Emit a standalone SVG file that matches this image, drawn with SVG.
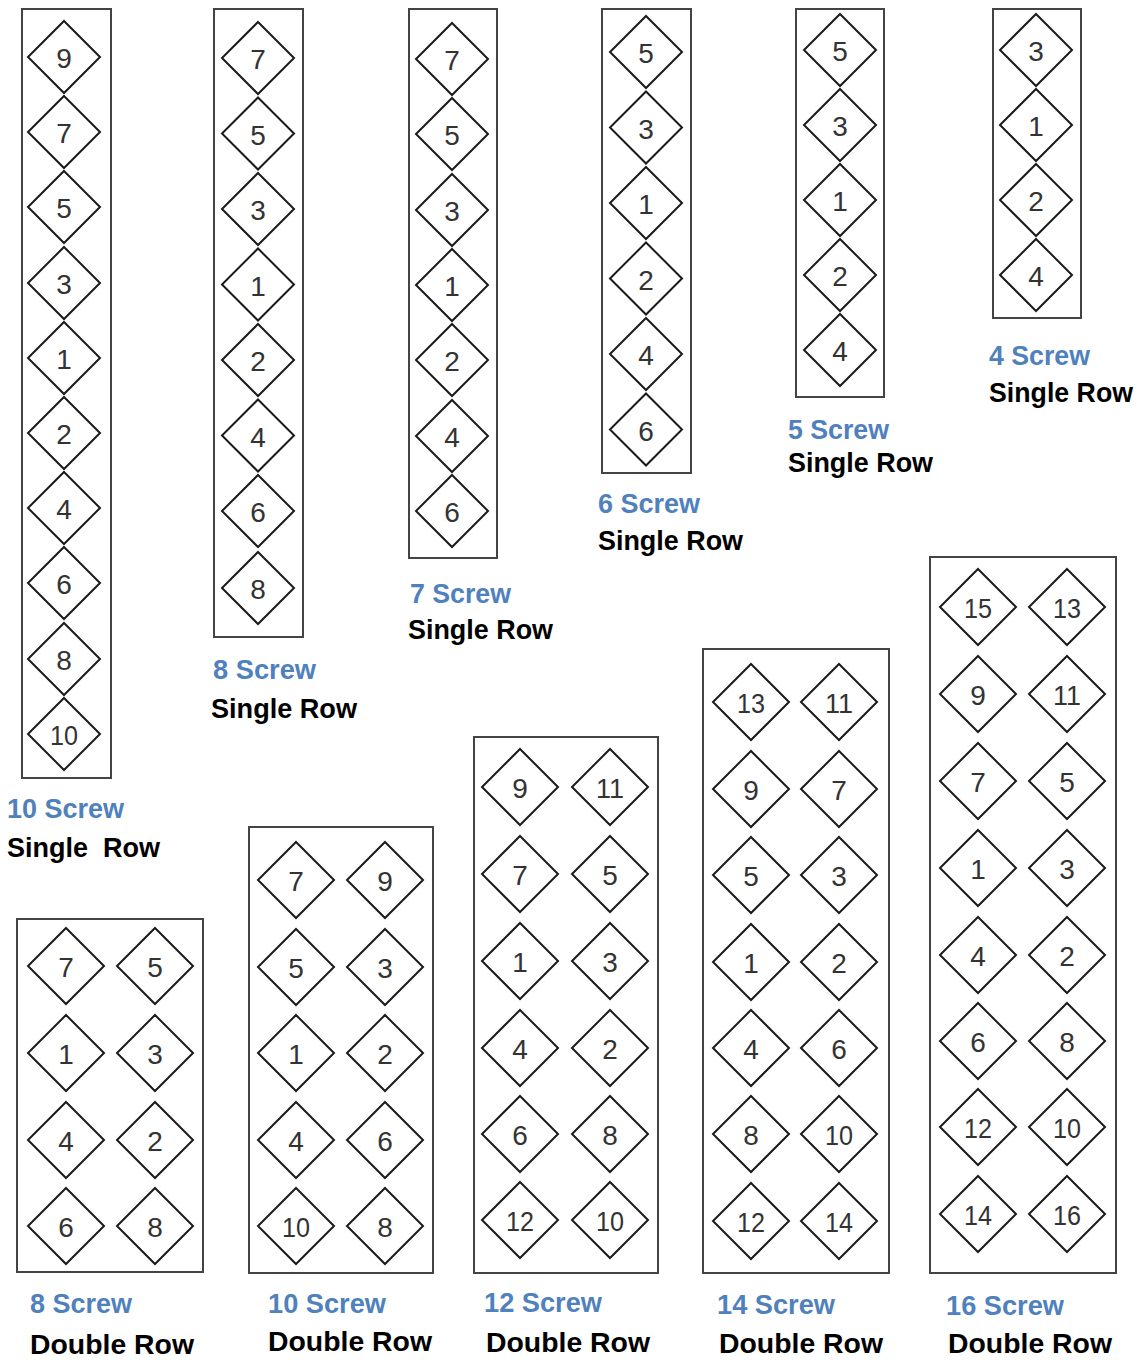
<svg xmlns="http://www.w3.org/2000/svg" xmlns:xlink="http://www.w3.org/1999/xlink" width="1142" height="1362" viewBox="0 0 1142 1362">
<style>
.board{fill:none;stroke:#444;stroke-width:2}
.dia{fill:#fff;stroke:#1a1a1a;stroke-width:2}
.n{font-family:"Liberation Sans",Arial,sans-serif;font-size:28px;fill:#333;text-anchor:middle}
.lb{font-family:"Liberation Sans",Arial,sans-serif;font-size:28px;font-weight:bold;fill:#4f81bd}
.lk{font-family:"Liberation Sans",Arial,sans-serif;font-size:28px;font-weight:bold;fill:#000}
</style>
<defs>
<path id="ds" d="M0,-36 L36,0 L0,36 L-36,0 Z"/>
<path id="dd" d="M0,-38 L38,0 L0,38 L-38,0 Z"/>
</defs>
<rect width="1142" height="1362" fill="#fff"/>
<g id="connectors"/>

<g id="single10">
<rect class="board" x="22" y="9" width="89" height="769"/>
<g id="s10-9"><use href="#ds" class="dia" x="64" y="57"/><text class="n" x="64" y="68">9</text></g>
<g id="s10-7"><use href="#ds" class="dia" x="64" y="132"/><text class="n" x="64" y="143">7</text></g>
<g id="s10-5"><use href="#ds" class="dia" x="64" y="207"/><text class="n" x="64" y="218">5</text></g>
<g id="s10-3"><use href="#ds" class="dia" x="64" y="283"/><text class="n" x="64" y="294">3</text></g>
<g id="s10-1"><use href="#ds" class="dia" x="64" y="358"/><text class="n" x="64" y="369">1</text></g>
<g id="s10-2"><use href="#ds" class="dia" x="64" y="433"/><text class="n" x="64" y="444">2</text></g>
<g id="s10-4"><use href="#ds" class="dia" x="64" y="508"/><text class="n" x="64" y="519">4</text></g>
<g id="s10-6"><use href="#ds" class="dia" x="64" y="583"/><text class="n" x="64" y="594">6</text></g>
<g id="s10-8"><use href="#ds" class="dia" x="64" y="659"/><text class="n" x="64" y="670">8</text></g>
<g id="s10-10"><use href="#ds" class="dia" x="64" y="734"/><text class="n" x="64" y="745" textLength="28" lengthAdjust="spacingAndGlyphs">10</text></g>
<text class="lb" x="7" y="818" textLength="117" lengthAdjust="spacingAndGlyphs">10 Screw</text>
<text class="lk" x="7" y="857" textLength="153" lengthAdjust="spacingAndGlyphs" xml:space="preserve">Single  Row</text>
</g>

<g id="single8">
<rect class="board" x="214" y="9" width="89" height="628"/>
<g id="s8-7"><use href="#ds" class="dia" x="258" y="58"/><text class="n" x="258" y="69">7</text></g>
<g id="s8-5"><use href="#ds" class="dia" x="258" y="133.5"/><text class="n" x="258" y="144.5">5</text></g>
<g id="s8-3"><use href="#ds" class="dia" x="258" y="209"/><text class="n" x="258" y="220">3</text></g>
<g id="s8-1"><use href="#ds" class="dia" x="258" y="284.5"/><text class="n" x="258" y="295.5">1</text></g>
<g id="s8-2"><use href="#ds" class="dia" x="258" y="360"/><text class="n" x="258" y="371">2</text></g>
<g id="s8-4"><use href="#ds" class="dia" x="258" y="435.5"/><text class="n" x="258" y="446.5">4</text></g>
<g id="s8-6"><use href="#ds" class="dia" x="258" y="511"/><text class="n" x="258" y="522">6</text></g>
<g id="s8-8"><use href="#ds" class="dia" x="258" y="588"/><text class="n" x="258" y="599">8</text></g>
<text class="lb" x="213" y="679" textLength="103" lengthAdjust="spacingAndGlyphs">8 Screw</text>
<text class="lk" x="211" y="718" textLength="146" lengthAdjust="spacingAndGlyphs">Single Row</text>
</g>

<g id="single7">
<rect class="board" x="409" y="9" width="88" height="549"/>
<g id="s7-7"><use href="#ds" class="dia" x="452" y="59"/><text class="n" x="452" y="70">7</text></g>
<g id="s7-5"><use href="#ds" class="dia" x="452" y="134"/><text class="n" x="452" y="145">5</text></g>
<g id="s7-3"><use href="#ds" class="dia" x="452" y="210"/><text class="n" x="452" y="221">3</text></g>
<g id="s7-1"><use href="#ds" class="dia" x="452" y="285"/><text class="n" x="452" y="296">1</text></g>
<g id="s7-2"><use href="#ds" class="dia" x="452" y="360"/><text class="n" x="452" y="371">2</text></g>
<g id="s7-4"><use href="#ds" class="dia" x="452" y="436"/><text class="n" x="452" y="447">4</text></g>
<g id="s7-6"><use href="#ds" class="dia" x="452" y="511"/><text class="n" x="452" y="522">6</text></g>
<text class="lb" x="410" y="603" textLength="101" lengthAdjust="spacingAndGlyphs">7 Screw</text>
<text class="lk" x="408" y="639" textLength="145" lengthAdjust="spacingAndGlyphs">Single Row</text>
</g>

<g id="single6">
<rect class="board" x="602" y="9" width="89" height="464"/>
<g id="s6-5"><use href="#ds" class="dia" x="646" y="52"/><text class="n" x="646" y="63">5</text></g>
<g id="s6-3"><use href="#ds" class="dia" x="646" y="127.5"/><text class="n" x="646" y="138.5">3</text></g>
<g id="s6-1"><use href="#ds" class="dia" x="646" y="203"/><text class="n" x="646" y="214">1</text></g>
<g id="s6-2"><use href="#ds" class="dia" x="646" y="278.5"/><text class="n" x="646" y="289.5">2</text></g>
<g id="s6-4"><use href="#ds" class="dia" x="646" y="354"/><text class="n" x="646" y="365">4</text></g>
<g id="s6-6"><use href="#ds" class="dia" x="646" y="429.5"/><text class="n" x="646" y="440.5">6</text></g>
<text class="lb" x="598" y="513" textLength="102" lengthAdjust="spacingAndGlyphs">6 Screw</text>
<text class="lk" x="598" y="550" textLength="145" lengthAdjust="spacingAndGlyphs">Single Row</text>
</g>

<g id="single5">
<rect class="board" x="796" y="9" width="88" height="388"/>
<g id="s5-5"><use href="#ds" class="dia" x="840" y="50"/><text class="n" x="840" y="61">5</text></g>
<g id="s5-3"><use href="#ds" class="dia" x="840" y="125"/><text class="n" x="840" y="136">3</text></g>
<g id="s5-1"><use href="#ds" class="dia" x="840" y="200"/><text class="n" x="840" y="211">1</text></g>
<g id="s5-2"><use href="#ds" class="dia" x="840" y="275"/><text class="n" x="840" y="286">2</text></g>
<g id="s5-4"><use href="#ds" class="dia" x="840" y="350"/><text class="n" x="840" y="361">4</text></g>
<text class="lb" x="788" y="439" textLength="101" lengthAdjust="spacingAndGlyphs">5 Screw</text>
<text class="lk" x="788" y="472" textLength="145" lengthAdjust="spacingAndGlyphs">Single Row</text>
</g>

<g id="single4">
<rect class="board" x="993" y="9" width="88" height="309"/>
<g id="s4-3"><use href="#ds" class="dia" x="1036" y="50"/><text class="n" x="1036" y="61">3</text></g>
<g id="s4-1"><use href="#ds" class="dia" x="1036" y="125"/><text class="n" x="1036" y="136">1</text></g>
<g id="s4-2"><use href="#ds" class="dia" x="1036" y="200"/><text class="n" x="1036" y="211">2</text></g>
<g id="s4-4"><use href="#ds" class="dia" x="1036" y="275"/><text class="n" x="1036" y="286">4</text></g>
<text class="lb" x="989" y="365" textLength="101" lengthAdjust="spacingAndGlyphs">4 Screw</text>
<text class="lk" x="989" y="402" textLength="144" lengthAdjust="spacingAndGlyphs">Single Row</text>
</g>

<g id="double8">
<rect class="board" x="17" y="919" width="186" height="353"/>
<g id="d8-7"><use href="#dd" class="dia" x="66" y="966"/><text class="n" x="66" y="977">7</text></g>
<g id="d8-5"><use href="#dd" class="dia" x="155" y="966"/><text class="n" x="155" y="977">5</text></g>
<g id="d8-1"><use href="#dd" class="dia" x="66" y="1053"/><text class="n" x="66" y="1064">1</text></g>
<g id="d8-3"><use href="#dd" class="dia" x="155" y="1053"/><text class="n" x="155" y="1064">3</text></g>
<g id="d8-4"><use href="#dd" class="dia" x="66" y="1140"/><text class="n" x="66" y="1151">4</text></g>
<g id="d8-2"><use href="#dd" class="dia" x="155" y="1140"/><text class="n" x="155" y="1151">2</text></g>
<g id="d8-6"><use href="#dd" class="dia" x="66" y="1226"/><text class="n" x="66" y="1237">6</text></g>
<g id="d8-8"><use href="#dd" class="dia" x="155" y="1226"/><text class="n" x="155" y="1237">8</text></g>
<text class="lb" x="30" y="1313" textLength="102" lengthAdjust="spacingAndGlyphs">8 Screw</text>
<text class="lk" x="30" y="1354" textLength="164" lengthAdjust="spacingAndGlyphs">Double Row</text>
</g>

<g id="double10">
<rect class="board" x="249" y="827" width="184" height="446"/>
<g id="d10-7"><use href="#dd" class="dia" x="296" y="880"/><text class="n" x="296" y="891">7</text></g>
<g id="d10-9"><use href="#dd" class="dia" x="385" y="880"/><text class="n" x="385" y="891">9</text></g>
<g id="d10-5"><use href="#dd" class="dia" x="296" y="967"/><text class="n" x="296" y="978">5</text></g>
<g id="d10-3"><use href="#dd" class="dia" x="385" y="967"/><text class="n" x="385" y="978">3</text></g>
<g id="d10-1"><use href="#dd" class="dia" x="296" y="1053"/><text class="n" x="296" y="1064">1</text></g>
<g id="d10-2"><use href="#dd" class="dia" x="385" y="1053"/><text class="n" x="385" y="1064">2</text></g>
<g id="d10-4"><use href="#dd" class="dia" x="296" y="1140"/><text class="n" x="296" y="1151">4</text></g>
<g id="d10-6"><use href="#dd" class="dia" x="385" y="1140"/><text class="n" x="385" y="1151">6</text></g>
<g id="d10-10"><use href="#dd" class="dia" x="296" y="1226"/><text class="n" x="296" y="1237" textLength="28" lengthAdjust="spacingAndGlyphs">10</text></g>
<g id="d10-8"><use href="#dd" class="dia" x="385" y="1226"/><text class="n" x="385" y="1237">8</text></g>
<text class="lb" x="268" y="1313" textLength="118" lengthAdjust="spacingAndGlyphs">10 Screw</text>
<text class="lk" x="268" y="1351" textLength="164" lengthAdjust="spacingAndGlyphs">Double Row</text>
</g>

<g id="double12">
<rect class="board" x="474" y="737" width="184" height="536"/>
<g id="d12-9"><use href="#dd" class="dia" x="520" y="787"/><text class="n" x="520" y="798">9</text></g>
<g id="d12-11"><use href="#dd" class="dia" x="610" y="787"/><text class="n" x="610" y="798" textLength="28" lengthAdjust="spacingAndGlyphs">11</text></g>
<g id="d12-7"><use href="#dd" class="dia" x="520" y="874"/><text class="n" x="520" y="885">7</text></g>
<g id="d12-5"><use href="#dd" class="dia" x="610" y="874"/><text class="n" x="610" y="885">5</text></g>
<g id="d12-1"><use href="#dd" class="dia" x="520" y="961"/><text class="n" x="520" y="972">1</text></g>
<g id="d12-3"><use href="#dd" class="dia" x="610" y="961"/><text class="n" x="610" y="972">3</text></g>
<g id="d12-4"><use href="#dd" class="dia" x="520" y="1048"/><text class="n" x="520" y="1059">4</text></g>
<g id="d12-2"><use href="#dd" class="dia" x="610" y="1048"/><text class="n" x="610" y="1059">2</text></g>
<g id="d12-6"><use href="#dd" class="dia" x="520" y="1134"/><text class="n" x="520" y="1145">6</text></g>
<g id="d12-8"><use href="#dd" class="dia" x="610" y="1134"/><text class="n" x="610" y="1145">8</text></g>
<g id="d12-12"><use href="#dd" class="dia" x="520" y="1220"/><text class="n" x="520" y="1231" textLength="28" lengthAdjust="spacingAndGlyphs">12</text></g>
<g id="d12-10"><use href="#dd" class="dia" x="610" y="1220"/><text class="n" x="610" y="1231" textLength="28" lengthAdjust="spacingAndGlyphs">10</text></g>
<text class="lb" x="484" y="1312" textLength="118" lengthAdjust="spacingAndGlyphs">12 Screw</text>
<text class="lk" x="486" y="1352" textLength="164" lengthAdjust="spacingAndGlyphs">Double Row</text>
</g>

<g id="double14">
<rect class="board" x="703" y="649" width="186" height="624"/>
<g id="d14-13"><use href="#dd" class="dia" x="751" y="702"/><text class="n" x="751" y="713" textLength="28" lengthAdjust="spacingAndGlyphs">13</text></g>
<g id="d14-11"><use href="#dd" class="dia" x="839" y="702"/><text class="n" x="839" y="713" textLength="28" lengthAdjust="spacingAndGlyphs">11</text></g>
<g id="d14-9"><use href="#dd" class="dia" x="751" y="789"/><text class="n" x="751" y="800">9</text></g>
<g id="d14-7"><use href="#dd" class="dia" x="839" y="789"/><text class="n" x="839" y="800">7</text></g>
<g id="d14-5"><use href="#dd" class="dia" x="751" y="875"/><text class="n" x="751" y="886">5</text></g>
<g id="d14-3"><use href="#dd" class="dia" x="839" y="875"/><text class="n" x="839" y="886">3</text></g>
<g id="d14-1"><use href="#dd" class="dia" x="751" y="962"/><text class="n" x="751" y="973">1</text></g>
<g id="d14-2"><use href="#dd" class="dia" x="839" y="962"/><text class="n" x="839" y="973">2</text></g>
<g id="d14-4"><use href="#dd" class="dia" x="751" y="1048"/><text class="n" x="751" y="1059">4</text></g>
<g id="d14-6"><use href="#dd" class="dia" x="839" y="1048"/><text class="n" x="839" y="1059">6</text></g>
<g id="d14-8"><use href="#dd" class="dia" x="751" y="1134"/><text class="n" x="751" y="1145">8</text></g>
<g id="d14-10"><use href="#dd" class="dia" x="839" y="1134"/><text class="n" x="839" y="1145" textLength="28" lengthAdjust="spacingAndGlyphs">10</text></g>
<g id="d14-12"><use href="#dd" class="dia" x="751" y="1221"/><text class="n" x="751" y="1232" textLength="28" lengthAdjust="spacingAndGlyphs">12</text></g>
<g id="d14-14"><use href="#dd" class="dia" x="839" y="1221"/><text class="n" x="839" y="1232" textLength="28" lengthAdjust="spacingAndGlyphs">14</text></g>
<text class="lb" x="717" y="1314" textLength="118" lengthAdjust="spacingAndGlyphs">14 Screw</text>
<text class="lk" x="719" y="1353" textLength="164" lengthAdjust="spacingAndGlyphs">Double Row</text>
</g>

<g id="double16">
<rect class="board" x="930" y="557" width="186" height="716"/>
<g id="d16-15"><use href="#dd" class="dia" x="978" y="607"/><text class="n" x="978" y="618" textLength="28" lengthAdjust="spacingAndGlyphs">15</text></g>
<g id="d16-13"><use href="#dd" class="dia" x="1067" y="607"/><text class="n" x="1067" y="618" textLength="28" lengthAdjust="spacingAndGlyphs">13</text></g>
<g id="d16-9"><use href="#dd" class="dia" x="978" y="694"/><text class="n" x="978" y="705">9</text></g>
<g id="d16-11"><use href="#dd" class="dia" x="1067" y="694"/><text class="n" x="1067" y="705" textLength="28" lengthAdjust="spacingAndGlyphs">11</text></g>
<g id="d16-7"><use href="#dd" class="dia" x="978" y="781"/><text class="n" x="978" y="792">7</text></g>
<g id="d16-5"><use href="#dd" class="dia" x="1067" y="781"/><text class="n" x="1067" y="792">5</text></g>
<g id="d16-1"><use href="#dd" class="dia" x="978" y="868"/><text class="n" x="978" y="879">1</text></g>
<g id="d16-3"><use href="#dd" class="dia" x="1067" y="868"/><text class="n" x="1067" y="879">3</text></g>
<g id="d16-4"><use href="#dd" class="dia" x="978" y="955"/><text class="n" x="978" y="966">4</text></g>
<g id="d16-2"><use href="#dd" class="dia" x="1067" y="955"/><text class="n" x="1067" y="966">2</text></g>
<g id="d16-6"><use href="#dd" class="dia" x="978" y="1041"/><text class="n" x="978" y="1052">6</text></g>
<g id="d16-8"><use href="#dd" class="dia" x="1067" y="1041"/><text class="n" x="1067" y="1052">8</text></g>
<g id="d16-12"><use href="#dd" class="dia" x="978" y="1127"/><text class="n" x="978" y="1138" textLength="28" lengthAdjust="spacingAndGlyphs">12</text></g>
<g id="d16-10"><use href="#dd" class="dia" x="1067" y="1127"/><text class="n" x="1067" y="1138" textLength="28" lengthAdjust="spacingAndGlyphs">10</text></g>
<g id="d16-14"><use href="#dd" class="dia" x="978" y="1214"/><text class="n" x="978" y="1225" textLength="28" lengthAdjust="spacingAndGlyphs">14</text></g>
<g id="d16-16"><use href="#dd" class="dia" x="1067" y="1214"/><text class="n" x="1067" y="1225" textLength="28" lengthAdjust="spacingAndGlyphs">16</text></g>
<text class="lb" x="946" y="1315" textLength="118" lengthAdjust="spacingAndGlyphs">16 Screw</text>
<text class="lk" x="948" y="1353" textLength="164" lengthAdjust="spacingAndGlyphs">Double Row</text>
</g>
</svg>
